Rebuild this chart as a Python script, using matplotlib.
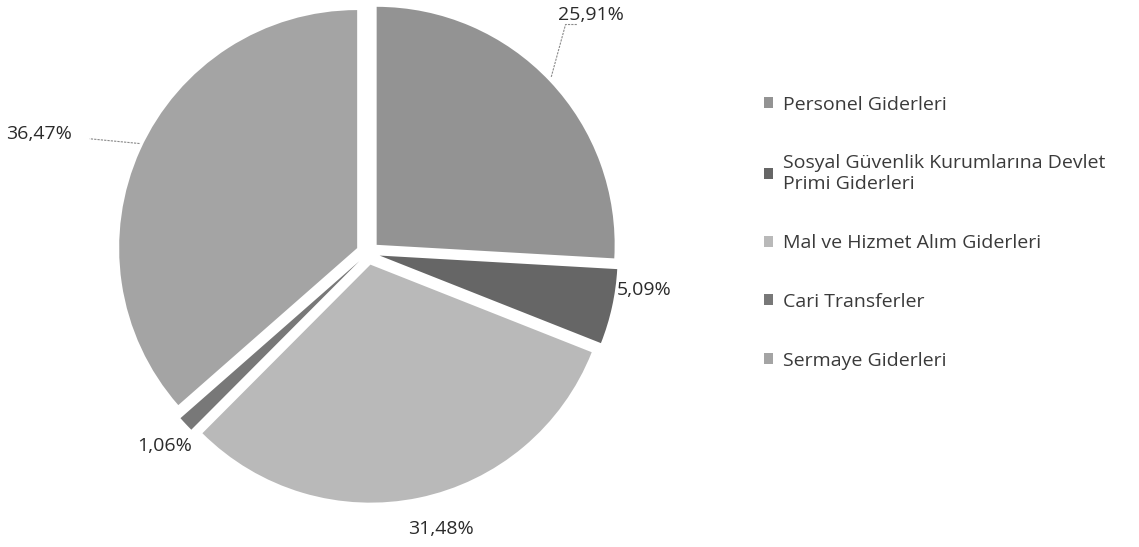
import numpy as np
import matplotlib.pyplot as plt

categories = [
    "Personel Giderleri",
    "Sosyal Güvenlik Kurumlarına Devlet\nPrimi Giderleri",
    "Mal ve Hizmet Alım Giderleri",
    "Cari Transferler",
    "Sermaye Giderleri",
]
shares = [25.91, 5.09, 31.48, 1.06, 36.47]
value_labels = ["25,91%", "5,09%", "31,48%", "1,06%", "36,47%"]
colors = ["#939393", "#666666", "#b9b9b9", "#787878", "#a4a4a4"]

plt.rcParams["font.family"] = ["Open Sans", "DejaVu Sans"]

W, H = 1139, 547
R = 238.0          # pie radius in pixels
CX, CY = 368, 253  # pie centre, pixels from top-left

fig = plt.figure(figsize=(W / 100, H / 100), dpi=100)
ax = fig.add_axes([0, 0, 700 / W, 1])

wedges, _ = ax.pie(
    shares,
    colors=colors,
    startangle=90,
    counterclock=False,
    explode=[0.05] * len(shares),
    wedgeprops=dict(linewidth=0),
)
ax.set_aspect("auto")
ax.set_xlim(-CX / R, (700 - CX) / R)
ax.set_ylim(-(H - CY) / R, CY / R)

# label placement: (radius, angle offset in degrees) relative to wedge middle
label_pos = [(1.37, 3.6), (1.17, 4.7), (1.20, 3.0), (1.18, 0.3), (1.47, 4.4)]
for w, txt, (r, off) in zip(wedges, value_labels, label_pos):
    mid = np.deg2rad((w.theta1 + w.theta2) / 2 + off)
    ax.text(r * np.cos(mid), r * np.sin(mid), txt, ha="center", va="center",
            fontsize=14, color="#2b2b2b")

# leader lines for the two outer labels
lc = dict(color="#8a8a8a", linewidth=0.8, linestyle=(0, (2, 1)))
ax.plot([0.77, 0.83, 0.88], [0.74, 0.96, 0.96], **lc)
ax.plot([-0.96, -1.17], [0.46, 0.48], **lc)

fig.legend(
    wedges, categories,
    loc="upper left", bbox_to_anchor=(746 / W, 1 - 78 / H),
    frameon=False, fontsize=14, labelcolor="#3a3a3a",
    handlelength=0.5, handleheight=0.5, handletextpad=0.5,
    labelspacing=2.1,
)

fig.savefig("out.png", dpi=100)
